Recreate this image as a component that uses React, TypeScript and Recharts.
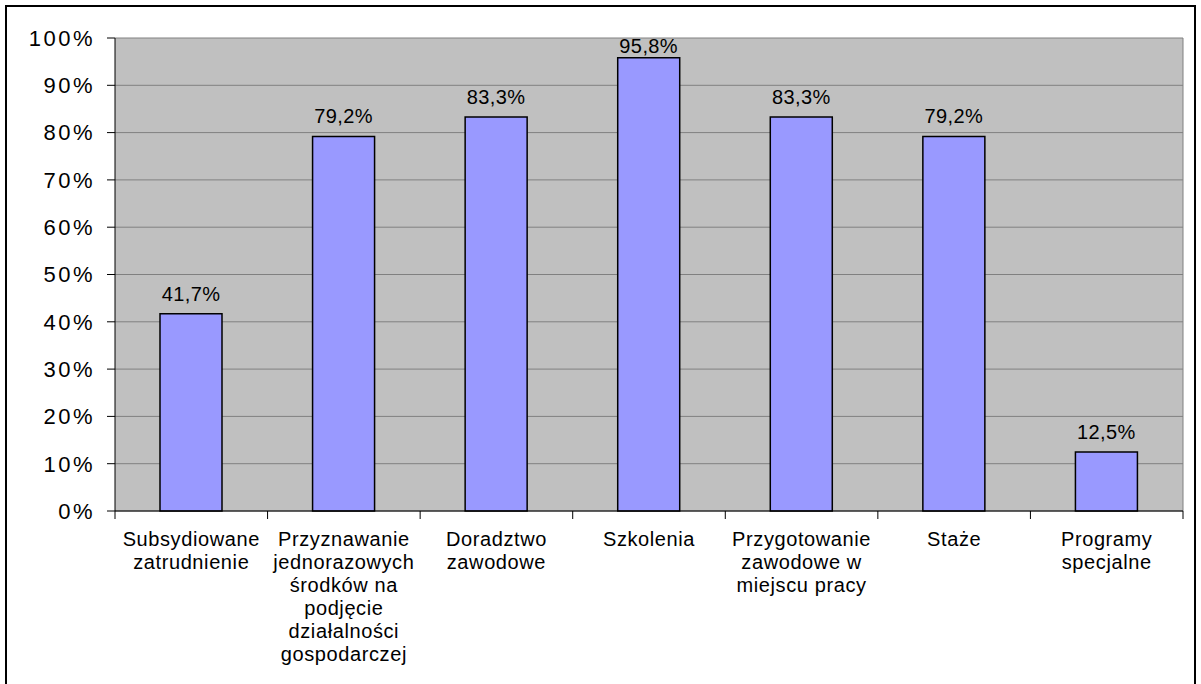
import React from 'react';
import { BarChart, Bar, XAxis, YAxis, CartesianGrid, LabelList } from 'recharts';

const categories = [
  'Subsydiowane zatrudnienie',
  'Przyznawanie jednorazowych środków na podjęcie działalności gospodarczej',
  'Doradztwo zawodowe',
  'Szkolenia',
  'Przygotowanie zawodowe w miejscu pracy',
  'Staże',
  'Programy specjalne',
];

// how the category labels wrap in the original
const categoryLines = [
  ['Subsydiowane', 'zatrudnienie'],
  ['Przyznawanie', 'jednorazowych', 'środków na', 'podjęcie', 'działalności', 'gospodarczej'],
  ['Doradztwo', 'zawodowe'],
  ['Szkolenia'],
  ['Przygotowanie', 'zawodowe w', 'miejscu pracy'],
  ['Staże'],
  ['Programy', 'specjalne'],
];

const values = [41.7, 79.2, 83.3, 95.8, 83.3, 79.2, 12.5];

const yTicks = [0, 10, 20, 30, 40, 50, 60, 70, 80, 90, 100];

const FONT = '"Liberation Sans", Arial, sans-serif';
const W = 1201;
const H = 684;
const LEFT = 115;
const RIGHT = 18;
const TOP = 38;
const BAND = (W - LEFT - RIGHT) / categories.length;

const chartData = categories.map((name, i) => ({ name, value: values[i] }));

const CategoryTick = (props: any) => {
  const { x, y, index, payload } = props;
  const lines = categoryLines[index] ?? [payload.value];
  const half = BAND / 2;
  return (
    <g>
      <line x1={x - half} y1={y - 10} x2={x - half} y2={y - 2} stroke="#000" />
      {index === categories.length - 1 && (
        <line x1={x + half} y1={y - 10} x2={x + half} y2={y - 2} stroke="#000" />
      )}
      <text x={x} y={y} textAnchor="middle" fontSize={20} letterSpacing={0.6} fontFamily={FONT} fill="#000">
        {lines.map((l: string, i: number) => (
          <tspan key={i} x={x} dy={i === 0 ? 25 : 23}>
            {l}
          </tspan>
        ))}
      </text>
    </g>
  );
};

const fmtLabel = (v: any) => Number(v).toFixed(1).replace('.', ',') + '%';

// Excel keeps the label inside the plot area when the bar is nearly full
const BarLabel = (props: any) => {
  const vb = props.viewBox ?? {};
  const x = props.x ?? vb.x;
  const y = props.y ?? vb.y;
  const width = props.width ?? vb.width;
  const baseline = Math.max(y - 13, TOP + 15);
  return (
    <text x={x + width / 2} y={baseline} textAnchor="middle" fontSize={20} letterSpacing={0.4} fontFamily={FONT} fill="#000">
      {fmtLabel(props.value)}
    </text>
  );
};

export default function App() {
  return (
    <div style={{ position: 'absolute', left: 0, top: 0, width: W, height: H, overflow: 'hidden', background: '#fff' }}>
      <div
        style={{
          position: 'absolute',
          left: 5,
          top: 5,
          width: 1191,
          height: 700,
          border: '2px solid #000',
          boxSizing: 'border-box',
        }}
      />
      <div style={{ position: 'absolute', left: 0, top: 0 }}>
        <BarChart width={W} height={H} data={chartData} margin={{ top: TOP, right: RIGHT, left: 0, bottom: 0 }} barSize={62}>
          <CartesianGrid
            fill="#C0C0C0"
            stroke="#808080"
            vertical
            verticalCoordinatesGenerator={({ offset }: any) => [offset.left + offset.width]}
          />
          <XAxis
            dataKey="name"
            height={173}
            tickLine={false}
            tickSize={8}
            tickMargin={2}
            axisLine={{ stroke: '#000' }}
            tick={<CategoryTick />}
            interval={0}
          />
          <YAxis
            type="number"
            domain={[0, 100]}
            ticks={yTicks}
            width={LEFT}
            tickSize={8}
            tickMargin={12}
            tickFormatter={(v) => `${v}%`}
            axisLine={{ stroke: '#000' }}
            tickLine={{ stroke: '#000' }}
            tick={{ fill: '#000', fontSize: 22, fontFamily: FONT, letterSpacing: 2.5 }}
          />
          <Bar dataKey="value" fill="#9999FF" stroke="#000" strokeWidth={1.5} isAnimationActive={false}>
            <LabelList dataKey="value" content={<BarLabel />} />
          </Bar>
        </BarChart>
      </div>
    </div>
  );
}
